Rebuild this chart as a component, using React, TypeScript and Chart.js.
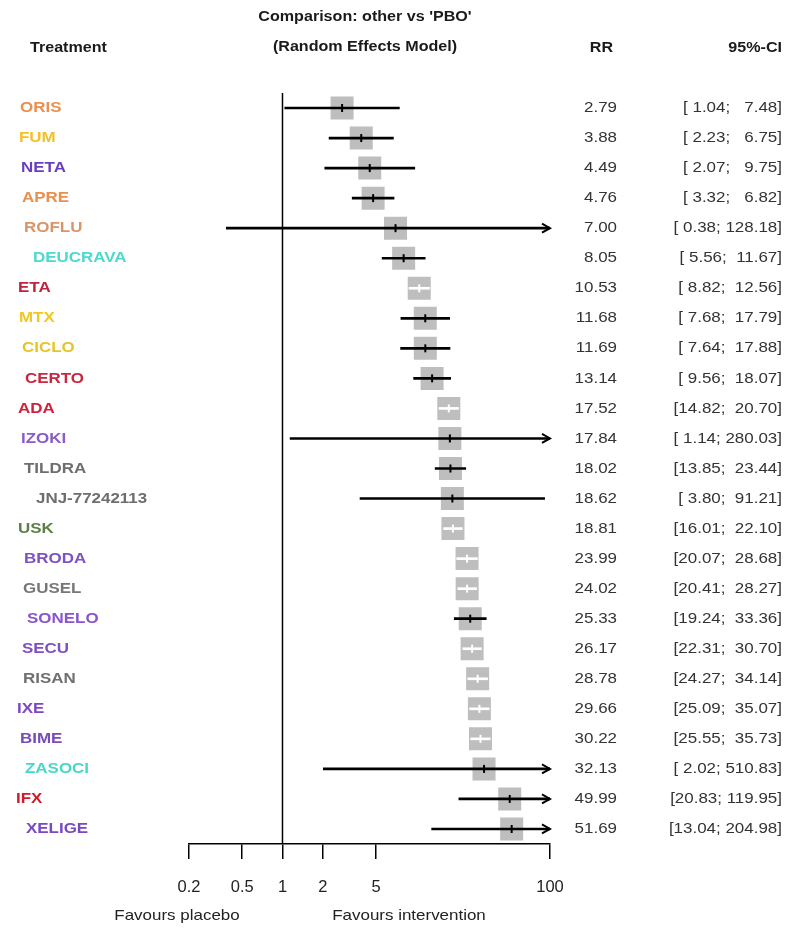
import React, { useEffect, useRef } from 'react';
import { Chart, registerables } from 'chart.js';

Chart.register(...registerables);

// ---------------- data ----------------
const treatments = [
  'ORIS', 'FUM', 'NETA', 'APRE', 'ROFLU', 'DEUCRAVA', 'ETA', 'MTX', 'CICLO', 'CERTO',
  'ADA', 'IZOKI', 'TILDRA', 'JNJ-77242113', 'USK', 'BRODA', 'GUSEL', 'SONELO', 'SECU',
  'RISAN', 'IXE', 'BIME', 'ZASOCI', 'IFX', 'XELIGE',
];
const rr = [
  2.79, 3.88, 4.49, 4.76, 7.0, 8.05, 10.53, 11.68, 11.69, 13.14,
  17.52, 17.84, 18.02, 18.62, 18.81, 23.99, 24.02, 25.33, 26.17,
  28.78, 29.66, 30.22, 32.13, 49.99, 51.69,
];
const ciLower = [
  1.04, 2.23, 2.07, 3.32, 0.38, 5.56, 8.82, 7.68, 7.64, 9.56,
  14.82, 1.14, 13.85, 3.8, 16.01, 20.07, 20.41, 19.24, 22.31,
  24.27, 25.09, 25.55, 2.02, 20.83, 13.04,
];
const ciUpper = [
  7.48, 6.75, 9.75, 6.82, 128.18, 11.67, 12.56, 17.79, 17.88, 18.07,
  20.7, 280.03, 23.44, 91.21, 22.1, 28.68, 28.27, 33.36, 30.7,
  34.14, 35.07, 35.73, 510.83, 119.95, 204.98,
];
const xTicks = [0.2, 0.5, 1, 2, 5, 100];
const X_MIN = 0.2;
const X_MAX = 100;
const NULL_VALUE = 1;

// ---------------- styles ----------------
const labelColors = [
  '#E8904F', '#F2C12A', '#6A3FBF', '#E8904F', '#D9956A', '#4DD9CF', '#C0233E', '#F0C820',
  '#E6C52A', '#C8283F', '#D0223A', '#8A5CC8', '#6E6E6E', '#6E6E6E', '#5E7F45', '#7E52C2',
  '#777777', '#8A55CC', '#8050C0', '#707070', '#8048C0', '#7A4AB8', '#48D8C8', '#D01A2A',
  '#7A48C0',
];
const labelIndent = [
  20, 19, 21, 22, 24, 33, 18, 19, 22, 25, 18, 21, 24, 36, 18, 24, 23, 27, 22, 23, 17, 20, 25, 16, 26,
];
const FONT = '"Liberation Sans", Arial, Helvetica, sans-serif';
const SX = 1.13;
const SQUARE_SIDE = 23;
const SQUARE_RADIUS = SQUARE_SIDE / (2 * Math.SQRT1_2);

const fmt = (v: number, w: number) => v.toFixed(2).padStart(w, ' ');
const ciText = (i: number) => `[${fmt(ciLower[i], 5)}; ${fmt(ciUpper[i], 6)}]`;

function drawText(
  ctx: CanvasRenderingContext2D, s: string, x: number, y: number,
  align: CanvasTextAlign, font: string, color: string, sx = SX,
) {
  ctx.save();
  ctx.font = font;
  ctx.fillStyle = color;
  ctx.textAlign = align;
  ctx.textBaseline = 'middle';
  ctx.translate(x, y);
  ctx.scale(sx, 1);
  ctx.fillText(s, 0, 0);
  ctx.restore();
}

function lineColor(chart: any, i: number) {
  if (i === undefined || i === null) return '#000';
  const x = chart.scales.x;
  const w = x.getPixelForValue(Math.min(ciUpper[i], X_MAX)) - x.getPixelForValue(Math.max(ciLower[i], X_MIN));
  return w < SQUARE_SIDE ? '#FFFFFF' : '#000000';
}

const forestPlugin = {
  id: 'forestDecor',
  beforeDatasetsDraw(chart: any) {
    const { ctx, chartArea, scales } = chart;
    const px = scales.x.getPixelForValue(NULL_VALUE);
    ctx.save();
    ctx.strokeStyle = '#000';
    ctx.lineWidth = 1.5;
    ctx.beginPath();
    ctx.moveTo(px, chartArea.top);
    ctx.lineTo(px, chartArea.bottom);
    ctx.stroke();
    ctx.restore();
  },
  afterDatasetsDraw(chart: any) {
    const { ctx, scales } = chart;
    const tip = scales.x.getPixelForValue(X_MAX);
    ctx.save();
    ctx.strokeStyle = '#000';
    ctx.lineWidth = 2;
    ciUpper.forEach((u, i) => {
      if (u <= X_MAX) return;
      const y = scales.y.getPixelForValue(i);
      ctx.beginPath();
      ctx.moveTo(tip - 8, y - 4.5);
      ctx.lineTo(tip, y);
      ctx.lineTo(tip - 8, y + 4.5);
      ctx.stroke();
    });
    ctx.restore();
  },
  afterDraw(chart: any) {
    const { ctx, scales } = chart;
    const hb = `bold 14.5px ${FONT}`;
    drawText(ctx, "Comparison: other vs 'PBO'", 365, 17, 'center', hb, '#1a1a1a', 1.11);
    drawText(ctx, '(Random Effects Model)', 365, 47, 'center', hb, '#1a1a1a', 1.11);
    drawText(ctx, 'Treatment', 30, 48, 'left', hb, '#1a1a1a', 1.11);
    drawText(ctx, 'RR', 613, 48, 'right', hb, '#1a1a1a', 1.11);
    drawText(ctx, '95%-CI', 782, 48, 'right', hb, '#1a1a1a', 1.11);

    treatments.forEach((t, i) => {
      const y = scales.y.getPixelForValue(i);
      drawText(ctx, t, labelIndent[i], y, 'left', `bold 15px ${FONT}`, labelColors[i]);
      drawText(ctx, rr[i].toFixed(2), 617, y, 'right', `15px ${FONT}`, '#333');
      drawText(ctx, ciText(i), 782, y, 'right', `15px ${FONT}`, '#333');
    });

    drawText(ctx, 'Favours placebo', 177, 916, 'center', `15px ${FONT}`, '#222');
    drawText(ctx, 'Favours intervention', 409, 916, 'center', `15px ${FONT}`, '#222');
  },
};

export default function App() {
  const ref = useRef<HTMLCanvasElement | null>(null);

  useEffect(() => {
    if (!ref.current) return;
    const points = treatments.map((t, i) => ({ x: rr[i], y: t }));
    const chart = new Chart(ref.current, {
      type: 'bar',
      data: {
        labels: treatments,
        datasets: [
          {
            type: 'bar',
            label: '95%-CI',
            data: treatments.map((_, i) => [Math.max(ciLower[i], X_MIN), Math.min(ciUpper[i], X_MAX)]),
            backgroundColor: (c: any) => lineColor(c.chart, c.dataIndex),
            borderWidth: 0,
            barThickness: 2,
            order: 2,
          } as any,
          {
            type: 'scatter',
            label: 'RR',
            data: points,
            pointStyle: 'rect',
            pointRadius: SQUARE_RADIUS,
            backgroundColor: '#BEBEBE',
            borderWidth: 0,
            showLine: false,
            order: 3,
          } as any,
          {
            type: 'scatter',
            label: 'estimate',
            data: points,
            pointStyle: 'line',
            rotation: 90,
            pointRadius: 4,
            borderWidth: 2,
            borderColor: (c: any) => lineColor(c.chart, c.dataIndex),
            showLine: false,
            order: 1,
          } as any,
        ],
      },
      options: {
        indexAxis: 'y',
        responsive: false,
        animation: false,
        events: [],
        layout: { padding: { left: 189, right: 250, top: 93, bottom: 0 } },
        plugins: { legend: { display: false }, tooltip: { enabled: false } },
        scales: {
          x: {
            type: 'logarithmic',
            position: 'bottom',
            min: X_MIN,
            max: X_MAX,
            bounds: 'data',
            afterBuildTicks: (s: any) => {
              s.ticks = xTicks.map((v) => ({ value: v }));
            },
            afterFit: (s: any) => {
              s.height = 84;
            },
            ticks: {
              autoSkip: false,
              maxRotation: 0,
              padding: 19,
              color: '#222',
              font: { family: FONT, size: 16.5 },
              callback: (v: any) => String(v),
            },
            grid: {
              drawOnChartArea: false,
              drawTicks: true,
              tickLength: 15,
              color: '#000',
              lineWidth: 1.5,
            },
            border: { display: true, color: '#000', width: 1.5 },
          },
          y: {
            type: 'category',
            display: false,
            offset: true,
            grid: { display: false },
          },
        },
      } as any,
      plugins: [forestPlugin],
    });
    return () => chart.destroy();
  }, []);

  return (
    <div style={{ position: 'absolute', left: 0, top: 0, width: 800, height: 928, background: '#fff' }}>
      <canvas ref={ref} width={800} height={928} />
    </div>
  );
}
